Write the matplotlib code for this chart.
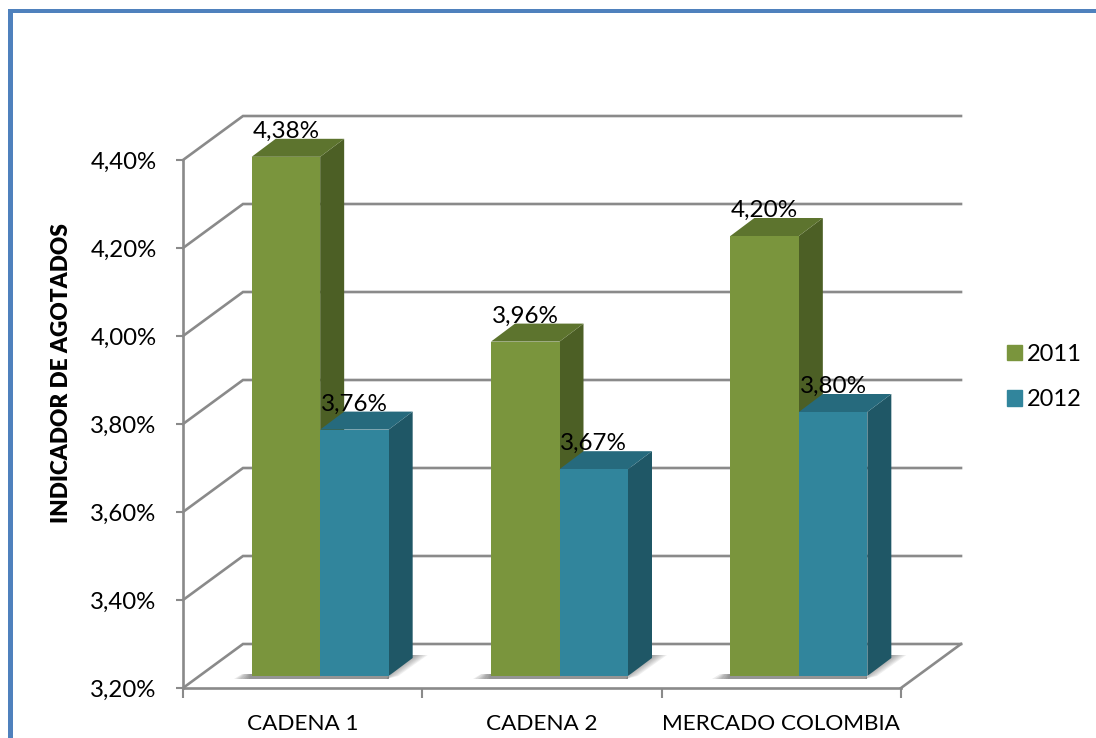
import matplotlib
matplotlib.use('Agg')
import matplotlib.pyplot as plt
import numpy as np
from matplotlib.patches import Polygon, Patch, Rectangle

categorias = ['CADENA 1', 'CADENA 2', 'MERCADO COLOMBIA']
anio_2011 = [4.38, 3.96, 4.20]
anio_2012 = [3.76, 3.67, 3.80]
series = ['2011', '2012']
ticks_y = [3.2, 3.4, 3.6, 3.8, 4.0, 4.2, 4.4]

plt.rcParams['font.family'] = ['Lato', 'DejaVu Sans']

W, H = 1096, 738
fig = plt.figure(figsize=(W / 100, H / 100), dpi=100)
# eje frontal: x 183..901 px, y 688..160 px
ax = fig.add_axes([183 / W, 1 - 688 / H, 718 / W, 528 / H])
ax.set_xlim(0, 3)
ax.set_ylim(3.2, 4.4)

# conversion px -> unidades de datos para la falsa perspectiva
ux = 3 / 718
uy = 1.2 / 528
gris = '#8a8a8a'

# borde azul de la pagina
fig.add_artist(Rectangle((8 / W, -0.01), 5 / W, 1 - 10 / H + 0.01, color='#4f81bd', lw=0))
fig.add_artist(Rectangle((8 / W, 1 - 13 / H), 1 - 8 / W, 3.5 / H, color='#4f81bd', lw=0))

# paredes y rejilla
wx, wy = 60 * ux, 44 * uy
for t in ticks_y:
    ax.plot([0, wx, 3 + wx], [t, t + wy, t + wy], color=gris, lw=1.9, clip_on=False,
            solid_joinstyle='miter', zorder=1)
ax.plot([3, 3 + wx], [3.2, 3.2 + wy], color=gris, lw=1.9, clip_on=False, zorder=1)

ancho = 68.5 * ux
base_x, base_y = 17.5 * ux, 12 * uy
dx, dy = 24 * ux, 18 * uy
base = 3.2 + base_y


def sombra(x0, x1):
    # sombra difusa sobre el piso
    for k in range(8):
        g = (8 - k) / 8
        ax.add_patch(Polygon([(x0 - 18 * g * ux, base - 3 * uy), (x1, base - 3 * uy),
                              (x1, base + 2 * uy), (x0 - 10 * g * ux, base + 2 * uy)],
                             fc='#555555', ec='none', alpha=0.11, clip_on=False, zorder=1.5))
        ax.add_patch(Polygon([(x1 - 2 * ux, base - 3 * uy), (x1 + dx * g * 0.4, base + (1 - g) * 4 * uy),
                              (x1 + dx + 15 * g * ux, base + dy + 3 * uy), (x1 + dx - 4 * ux, base + dy + 3 * uy)],
                             fc='#555555', ec='none', alpha=0.09, clip_on=False, zorder=1.5))


def barra(x, v, frente, techo, lado, z):
    ax.add_patch(Polygon([(x, base), (x + ancho, base), (x + ancho, v + base_y), (x, v + base_y)],
                         fc=frente, ec='none', clip_on=False, zorder=z + 0.2))
    ax.add_patch(Polygon([(x, v + base_y), (x + ancho, v + base_y),
                          (x + ancho + dx, v + base_y + dy), (x + dx, v + base_y + dy)],
                         fc=techo, ec='none', clip_on=False, zorder=z + 0.1))
    ax.add_patch(Polygon([(x + ancho, base), (x + ancho + dx, base + dy),
                          (x + ancho + dx, v + base_y + dy), (x + ancho, v + base_y)],
                         fc=lado, ec='none', clip_on=False, zorder=z))


verde = ('#7a953d', '#5d742e', '#4c5f25')
azul = ('#31859c', '#266a7d', '#1f5766')
for i in range(len(categorias)):
    c = i + 0.5 + base_x
    sombra(c - ancho, c + ancho)
    barra(c - ancho, anio_2011[i], *verde, 2)
    barra(c, anio_2012[i], *azul, 3)
    for x, v in ((c - ancho / 2, anio_2011[i]), (c + ancho / 2, anio_2012[i])):
        ax.text(x, v + base_y + 25.5 * uy, ('%.2f%%' % v).replace('.', ','), ha='center',
                va='center', fontsize=17.5, color='black', zorder=5, clip_on=False)

# ejes
for s in ('top', 'right'):
    ax.spines[s].set_visible(False)
for s in ('left', 'bottom'):
    ax.spines[s].set_color(gris)
    ax.spines[s].set_linewidth(1.9)
    ax.spines[s].set_zorder(1.8)
ax.patch.set_alpha(0)
ax.set_yticks(ticks_y)
ax.set_yticklabels([('%.2f%%' % t).replace('.', ',') for t in ticks_y], fontsize=17.3)
ax.tick_params(axis='y', length=5, width=1.5, color=gris, pad=14)
ax.set_xticks([0, 1, 2, 3])
ax.set_xticklabels([])
ax.tick_params(axis='x', which='major', length=7, width=1.5, color=gris)
ax.set_xticks([0.5, 1.5, 2.5], minor=True)
ax.set_xticklabels(categorias, minor=True, fontsize=16.2)
ax.tick_params(axis='x', which='minor', length=0, pad=19)

ax.set_ylabel('INDICADOR DE AGOTADOS', fontsize=16.3, fontweight='heavy', va='center')
ax.yaxis.set_label_coords((61 - 183) / 718, (688 - 373) / 528)

ax.legend(handles=[Patch(color=verde[0], label=series[0]), Patch(color=azul[0], label=series[1])],
          loc='center left', bbox_to_anchor=(998 / W, 1 - 377 / H), bbox_transform=fig.transFigure,
          frameon=False, fontsize=17, handlelength=0.62, handleheight=0.62, handletextpad=0.22,
          labelspacing=1.05, borderpad=0, borderaxespad=0.4)

fig.savefig('out.png', dpi=100, facecolor='white')
